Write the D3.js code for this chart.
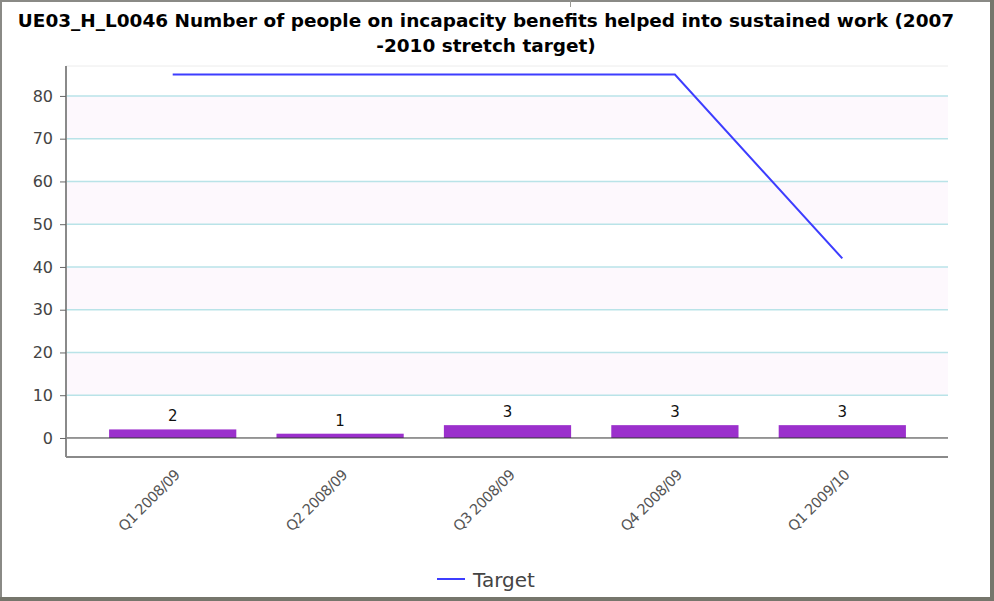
<!DOCTYPE html>
<html>
<head>
<meta charset="utf-8">
<script src="https://cdn.jsdelivr.net/npm/d3@7"></script>
<style>
  html, body { margin: 0; padding: 0; background: #fff; }
  svg { display: block; }
</style>
</head>
<body>
<svg id="chart" width="994" height="601"></svg>
<script>
// Quarterly outcomes and the stretch target
const categories = ["Q1 2008/09", "Q2 2008/09", "Q3 2008/09", "Q4 2008/09", "Q1 2009/10"];
const actualValues = [2, 1, 3, 3, 3];
const targetValues = [85, 85, 85, 85, 42];
const yTicks = [0, 10, 20, 30, 40, 50, 60, 70, 80];
const titleLines = [
  "UE03_H_L0046 Number of people on incapacity benefits helped into sustained work (2007",
  "-2010 stretch target)"
];
const legendLabel = "Target";

const svg = d3.select("#chart");
const W = 994, H = 601;

// Frame around the whole chart
svg.append("rect").attr("x", 0).attr("y", 0).attr("width", W).attr("height", H).attr("fill", "#fff");
svg.append("line").attr("x1", 0).attr("x2", W).attr("y1", 1).attr("y2", 1).attr("stroke", "#8a8a86").attr("stroke-width", 2);
svg.append("line").attr("x1", 1).attr("x2", 1).attr("y1", 0).attr("y2", H).attr("stroke", "#8a8a86").attr("stroke-width", 2);
svg.append("line").attr("x1", 570.5).attr("x2", 570.5).attr("y1", 0).attr("y2", 7).attr("stroke", "#9a9a96").attr("stroke-width", 1);
svg.append("rect").attr("x", 990).attr("y", 0).attr("width", 4).attr("height", H).attr("fill", "#76766c");
svg.append("rect").attr("x", 0).attr("y", 597).attr("width", W).attr("height", 4).attr("fill", "#76766c");

// Title: two centred bold lines, sized so the first spans the chart width
const title = svg.append("g").attr("font-family", "'DejaVu Sans', sans-serif")
  .attr("font-weight", "bold").attr("font-size", 16).attr("fill", "#000").attr("text-anchor", "middle");
const titleTexts = titleLines.map((t, i) =>
  title.append("text").attr("x", 486).attr("y", 27 + i * 25).text(t));
const firstLen = titleTexts[0].node().getComputedTextLength();
title.attr("font-size", 16 * 937 / firstLen);

// Plot area
const plot = { left: 66, right: 948, top: 66, bottom: 457 };
const y = d3.scaleLinear().domain([-4.45, 87]).range([plot.bottom, plot.top]);
const x = d3.scaleBand().domain(categories).range([89, 926]).paddingInner(0.24).paddingOuter(0.12);
const xc = d => x(d) + x.bandwidth() / 2;

// Alternating band fills between gridlines
const bandPairs = [[10, 20], [30, 40], [50, 60], [70, 80]];
svg.append("g").selectAll("rect").data(bandPairs).join("rect")
  .attr("x", plot.left).attr("width", plot.right - plot.left)
  .attr("y", d => y(d[1])).attr("height", d => y(d[0]) - y(d[1]))
  .attr("fill", "#fdf8fd");

// Top boundary of plot
svg.append("line").attr("x1", plot.left).attr("x2", plot.right)
  .attr("y1", plot.top).attr("y2", plot.top).attr("stroke", "#ececec").attr("stroke-width", 1);

// Gridlines
svg.append("g").selectAll("line").data(yTicks.filter(v => v > 0)).join("line")
  .attr("x1", plot.left).attr("x2", plot.right)
  .attr("y1", d => y(d)).attr("y2", d => y(d))
  .attr("stroke", "#b9e3e8").attr("stroke-width", 1.5);

// Bars
svg.append("g").selectAll("rect").data(categories).join("rect")
  .attr("x", d => x(d)).attr("width", x.bandwidth())
  .attr("y", (d, i) => y(actualValues[i]))
  .attr("height", (d, i) => y(0) - y(actualValues[i]))
  .attr("fill", "#9b30cc");

// Zero line
svg.append("line").attr("x1", plot.left).attr("x2", plot.right)
  .attr("y1", y(0)).attr("y2", y(0)).attr("stroke", "#333").attr("stroke-width", 1);

// Bar value labels
svg.append("g").selectAll("text").data(categories).join("text")
  .attr("x", d => xc(d)).attr("y", (d, i) => y(actualValues[i]) - 8)
  .attr("text-anchor", "middle").attr("font-family", "'DejaVu Sans', sans-serif")
  .attr("font-size", 15).attr("fill", "#111")
  .text((d, i) => actualValues[i]);

// Target line
const line = d3.line().x((d, i) => xc(categories[i])).y(d => y(d));
svg.append("path").datum(targetValues).attr("d", line)
  .attr("fill", "none").attr("stroke", "#3d3dff").attr("stroke-width", 2);

// Y axis
const yAxis = d3.axisLeft(y).tickValues(yTicks).tickSize(6).tickPadding(7);
const yg = svg.append("g").attr("transform", `translate(${plot.left},0)`).call(yAxis);
yg.select(".domain").attr("d", `M0,${plot.top}V${plot.bottom}`).attr("stroke", "#8a8a8a").attr("stroke-width", 2);
yg.selectAll(".tick line").attr("stroke", "#666");
yg.selectAll(".tick text").attr("font-family", "'DejaVu Sans', sans-serif").attr("font-size", 16).attr("fill", "#444");

// X axis
const xAxis = d3.axisBottom(x).tickSize(0).tickPadding(0);
const xg = svg.append("g").attr("transform", `translate(0,${plot.bottom})`).call(xAxis);
xg.select(".domain").attr("d", `M${plot.left},0H${plot.right}`).attr("stroke", "#8a8a8a").attr("stroke-width", 2);
xg.selectAll(".tick text")
  .attr("font-family", "'DejaVu Sans', sans-serif").attr("font-size", 14.5).attr("fill", "#555")
  .attr("text-anchor", "end").attr("dy", 0)
  .attr("letter-spacing", -0.6)
  .attr("transform", "translate(8,19) rotate(-45)");

// Legend
const lg = svg.append("g").attr("transform", "translate(437,579)");
lg.append("line").attr("x1", 0).attr("x2", 28).attr("y1", 0).attr("y2", 0)
  .attr("stroke", "#3d3dff").attr("stroke-width", 2);
lg.append("text").attr("x", 36).attr("y", 8).attr("font-family", "'DejaVu Sans', sans-serif")
  .attr("font-size", 20).attr("fill", "#444").text(legendLabel);
</script>
</body>
</html>
